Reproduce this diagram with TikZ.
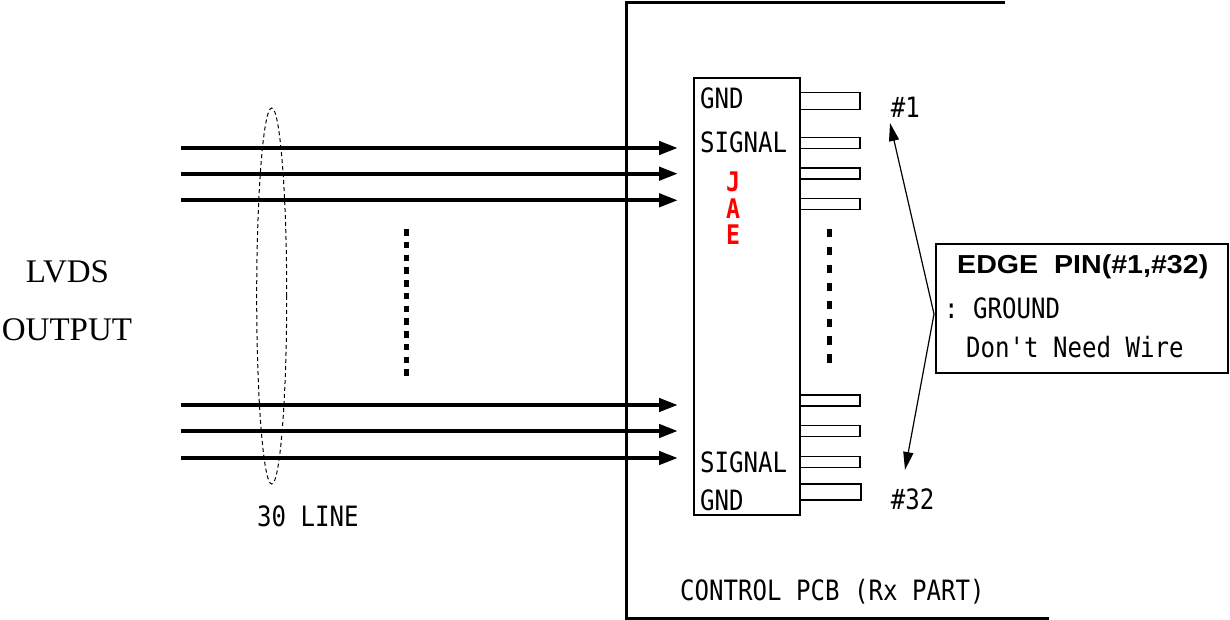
\documentclass[tikz,border=0pt]{standalone}
\usepackage{fontspec}
\usetikzlibrary{arrows.meta,shapes.geometric}
\newfontfamily\gul[FakeStretch=0.86]{DejaVu Sans Mono}
\newfontfamily\edgefont[FakeStretch=1.1]{Liberation Sans}
\newfontfamily\lvdsfont{Liberation Serif}
\begin{document}
\begin{tikzpicture}[x=1pt,y=-1pt,
  lbl/.style={font=\gul\fontsize{28}{28}\selectfont, inner sep=0pt, anchor=base west},
  redlbl/.style={font=\gul\bfseries\fontsize{27}{27}\selectfont, text=red, inner sep=0pt, anchor=base},
  serif/.style={font=\lvdsfont\fontsize{33}{33}\selectfont, inner sep=0pt, anchor=base},
  bus/.style={line width=4.3pt, -{Triangle[length=19pt,width=13pt]}},
  pcb/.style={line width=3pt},
  pinbox/.style={draw, line width=1.4pt, inner sep=0pt, minimum width=60pt},
  callarrow/.style={line width=1.2pt, -{Triangle[length=18pt,width=10pt]}},
  dotline/.style={line width=4.5pt},
]
\useasboundingbox (0,0) rectangle (1230,620);
\fill[white] (0,0) rectangle (1230,620);

% PCB outline
\coordinate (pcbTR) at (1005,3);
\coordinate (pcbTL) at (626,3);
\coordinate (pcbBL) at (626,618);
\coordinate (pcbBR) at (1049,618);
\draw[pcb] (pcbTR) -- (pcbTL) -- (pcbBL) -- (pcbBR);

% connector body
\node (jae) [draw, line width=1.4pt, inner sep=0pt, minimum width=106pt, minimum height=437pt] at (747,296.5) {};

% pins
\node (p1) [pinbox, minimum height=16.5pt] at (830,101) {};
\node (p2) [pinbox, minimum height=11pt] at (830,143) {};
\node (p3) [pinbox, minimum height=11pt] at (830,173.5) {};
\node (p4) [pinbox, minimum height=11pt] at (830,204) {};
\node (p29) [pinbox, minimum height=11pt] at (830,400.5) {};
\node (p30) [pinbox, minimum height=11pt] at (830,431) {};
\node (p31) [pinbox, minimum height=11pt] at (830,461.7) {};
\node (p32) [pinbox, minimum height=16pt, minimum width=61pt] at (830.5,492) {};

% connector texts
\node (gnd1) [lbl] at (700,108.3) {GND};
\node (sig1) [lbl] at (700,153) {SIGNAL};
\node (sig2) [lbl] at (700,472.7) {SIGNAL};
\node (gnd2) [lbl] at (700,510) {GND};
\node (jj) [redlbl] at (733,191.7) {J};
\node (ja) [redlbl] at (733,218.3) {A};
\node (je) [redlbl] at (733,244) {E};

% dotted continuation marks
\coordinate (d1a) at (406.7,229);
\coordinate (d1b) at (406.7,376);
\draw[dotline, dash pattern=on 6.7pt off 6.05pt] (d1a) -- (d1b);
\coordinate (d2a) at (829.3,229);
\coordinate (d2b) at (829.3,363);
\draw[dotline, dash pattern=on 8.3pt off 9.6pt] (d2a) -- (d2b);

% signal lines
\foreach \i/\yy in {1/148,2/173.7,3/200.3,4/405,5/431,6/458}{
  \coordinate (s\i) at (181,\yy);
  \coordinate (e\i) at (678,\yy);
  \draw[bus] (s\i) -- (e\i);
}

% bundle ellipse
\node (bundle) [ellipse, draw, dashed, dash pattern=on 4pt off 3pt, line width=1pt, inner sep=0pt, minimum width=30pt, minimum height=376pt] at (271.7,296) {};
\node (lines) [lbl] at (257,526.7) {30 LINE};

% LVDS output text
\node (lvds) [serif] at (67.5,282.7) {LVDS};
\node (out) [serif] at (67,340) {OUTPUT};

% pin numbers
\node (n1) [lbl] at (890.7,117.7) {\#1};
\node (n32) [lbl] at (890.7,509.3) {\#32};

% callout
\coordinate (apex) at (934,314);
\coordinate (t1) at (890,123);
\coordinate (t32) at (905,470);
\draw[callarrow] (apex) -- (t1);
\draw[callarrow] (apex) -- (t32);
\node (note) [draw, line width=1.4pt, inner sep=0pt, minimum width=292pt, minimum height=129pt] at (1082,308.5) {};
\node (edge) [font=\edgefont\bfseries\fontsize{26}{26}\selectfont, inner sep=0pt, anchor=base west] at (957,273.3) {EDGE\ \ PIN(\#1,\#32)};
\node (gr) [lbl] at (944,318) {:\ GROUND};
\node (dn) [lbl] at (966,357) {Don't Need Wire};

% PCB label
\node (pcbl) [lbl] at (680,600) {CONTROL PCB (Rx PART)};
\end{tikzpicture}
\end{document}
